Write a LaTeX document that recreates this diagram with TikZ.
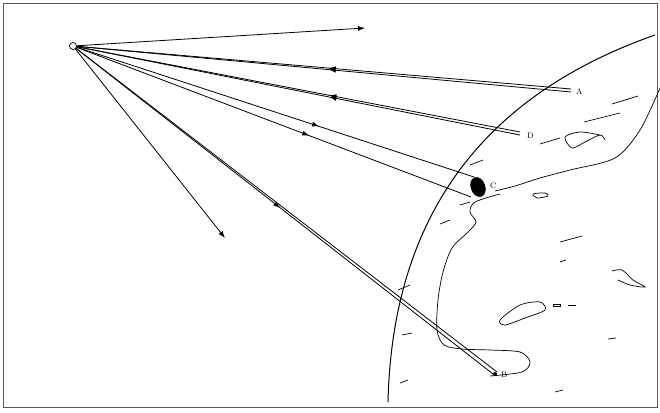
\documentclass[tikz,border=0pt]{standalone}
\usetikzlibrary{decorations.markings,arrows.meta}
\begin{document}
\begin{tikzpicture}[x=1pt,y=-1pt,
  ray/.style={line width=0.8pt},
  midl/.style={ray,postaction={decorate},decoration={markings,mark=at position #1 with {\arrow{Latex[length=7pt,width=5pt]}}}},
  midr/.style={ray,postaction={decorate},decoration={markings,mark=at position #1 with {\arrowreversed{Latex[length=7pt,width=5pt]}}}},
  coast/.style={line width=0.7pt},
  lab/.style={font=\fontsize{8}{9}\selectfont,inner sep=1pt}]
\useasboundingbox (0,0) rectangle (660,412);
\draw[line width=0.6pt,gray!70!black] (3,3) rectangle (657,407);
\node[circle,draw,fill=white,inner sep=0pt,minimum size=7pt,line width=0.7pt] (O) at (73,46) {};
% globe
\draw[line width=1pt] (388,402) .. controls (392,230) and (470,100) .. (655,35);
% coasts
\draw[coast] plot[smooth] coordinates {(660,88) (640,130) (615,158) (570,170) (540,178) (515,186) (495,191)};
\draw[coast] plot[smooth] coordinates {(500,194) (475,202) (470,212) (476,222) (468,232) (452,248) (443,272) (438,300) (437,330) (444,345) (462,349) (490,350) (520,352) (530,362) (522,372) (490,376)};
\draw[coast] plot[smooth cycle] coordinates {(500,320) (520,305) (540,302) (545,310) (525,318) (505,325)};
\draw[coast] plot[smooth] coordinates {(600,135) (580,132) (565,137) (572,148) (585,142) (600,135) (605,140)};
\draw[coast] plot[smooth] coordinates {(612,271) (622,270) (633,280) (645,287) (630,285) (618,280)};
\draw[coast] (553,304) rectangle (560,306) (568,305) -- (576,305);
\draw[coast] plot[smooth cycle] coordinates {(533,194) (545,193) (548,196) (537,198)};
\foreach \a/\b in {{(560,242)}/{(582,236)}, {(612,104)}/{(638,96)}, {(584,122)}/{(620,113)}, {(540,144)}/{(560,138)}, {(440,224)}/{(450,220)}, {(398,290)}/{(410,285)}, {(402,335)}/{(412,333)}, {(400,383)}/{(408,380)}, {(555,392)}/{(563,390)}, {(608,339)}/{(616,338)}, {(560,262)}/{(566,260)}, {(460,205)}/{(470,202)}, {(470,165)}/{(483,160)}}
  \draw[coast] \a -- \b;
% rays
\coordinate (Tr) at (365,28);
\coordinate (Dn) at (225,238);
\draw[ray,-{Latex[length=7pt,width=5pt]}] (O) -- (Tr);
\draw[ray,-{Latex[length=7pt,width=5pt]}] (O) -- (Dn);
\coordinate (A1) at (571,89); \coordinate (A2) at (571,92);
\draw[midr=0.51] (O) -- (A1); \draw[midr=0.51] (O) -- (A2);
\node[lab,anchor=west] (A) at (575,92) {A};
\coordinate (D1) at (520,132); \coordinate (D2) at (520,135);
\draw[midr=0.57] (O) -- (D1); \draw[midr=0.57] (O) -- (D2);
\node[lab,anchor=west] (D) at (526,136) {D};
\coordinate (B1) at (493,374); \coordinate (B2) at (497,372);
\draw[midl=0.49] (O) -- (B1); \draw[ray] (O) -- (B2);
\fill (495,374) circle (2pt);
\node[lab,anchor=west] (B) at (500,375) {B};
\draw[fill=black,rotate around={20:(478,187)}] (478,187) ellipse (7pt and 10pt);
\coordinate (C1) at (474,177); \coordinate (C2) at (471,197);
\draw[midl=0.61] (O) -- (C1); \draw[midl=0.59] (O) -- (C2);
\node[lab,anchor=west] (C) at (489,186) {C};
\end{tikzpicture}
\end{document}
